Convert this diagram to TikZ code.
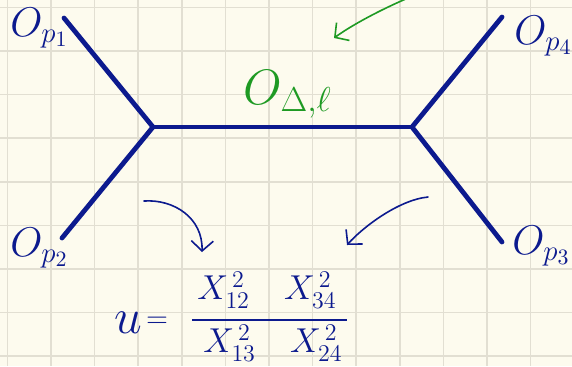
\documentclass[tikz,border=0pt]{standalone}
\usepackage{amsmath,amssymb}
\usepackage{tikz}
\usetikzlibrary{arrows.meta}
\definecolor{paper}{HTML}{FDFBEE}
\definecolor{gridln}{HTML}{E2DFD2}
\definecolor{ink}{HTML}{0C1A8E}
\definecolor{inkg}{HTML}{1E9A23}
\begin{document}
\begin{tikzpicture}[
    x=0.5pt, y=-0.5pt,
    leg/.style={ink, line width=2.4pt, line cap=round},
    cue/.style={line width=0.8pt, line cap=round, -{Straight Barb[length=5pt, width=11pt]}},
    oplbl/.style={ink, font=\fontsize{22}{26}\selectfont, inner sep=0pt, anchor=base west},
    fml/.style={ink, font=\fontsize{17}{20}\selectfont, inner sep=0pt}
]
\fill[paper] (0,0) rectangle (572,366);
\useasboundingbox (0,0) rectangle (572,366);
\foreach \k in {0,...,12}
  \draw[gridln, line width=0.8pt] ({7.4+43.6*\k},0) -- ++(0,366);
\foreach \k in {0,...,8}
  \draw[gridln, line width=0.8pt] (0,{7.4+43.6*\k}) -- ++(572,0);

\coordinate (vL) at (153,127);
\coordinate (vR) at (412,127);
\coordinate (e1) at (64,18);
\coordinate (e2) at (62,238);
\coordinate (e3) at (502,242);
\coordinate (e4) at (502,17);
\draw[leg] (e1) -- (vL) -- (e2);
\draw[leg] (vL) -- (vR);
\draw[leg] (e4) -- (vR) -- (e3);

\node[oplbl] (op1) at (10,36) {$O_{p_{1}}$};
\node[oplbl] (op2) at (10,256) {$O_{p_{2}}$};
\node[oplbl] (op3) at (512,254) {$O_{p_{3}}$};
\node[oplbl] (op4) at (514,44) {$O_{p_{4}}$};
\node[oplbl, inkg, font=\fontsize{26}{30}\selectfont] (exch) at (243,104) {$O_{\Delta,\ell}$};

\node[fml, font=\fontsize{26}{30}\selectfont, anchor=base] (uvar) at (128,333) {$u$};
\node[fml, font=\fontsize{14}{16}\selectfont] (ueq) at (157,322) {$=$};
\node[fml] (num) at (267,290) {$X_{12}^{\,2}\quad X_{34}^{\,2}$};
\node[fml] (den) at (273,343) {$X_{13}^{\,2}\quad X_{24}^{\,2}$};
\coordinate (barL) at (192,320);
\coordinate (barR) at (347,320);
\draw[ink, line width=0.8pt] (barL) -- (barR);

\coordinate (c1) at (144,201);
\coordinate (t1) at (202,252);
\coordinate (c2) at (428,197);
\coordinate (t2) at (347,245);
\coordinate (c3) at (408,-2);
\coordinate (t3) at (334,38);
\draw[cue, ink] (c1) .. controls (174,199) and (203,218) .. (t1);
\draw[cue, ink] (c2) .. controls (398,200) and (362,228) .. (t2);
\draw[cue, inkg] (c3) .. controls (380,10) and (352,25) .. (t3);
\end{tikzpicture}
\end{document}
